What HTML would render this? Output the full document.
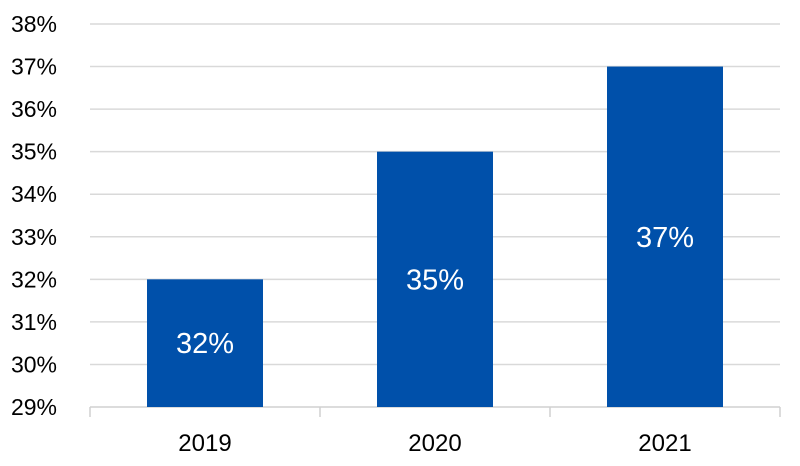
<!DOCTYPE html>
<html><head><meta charset="utf-8"><style>
body{margin:0;background:#fff;}
svg{display:block;font-family:"Liberation Sans",Arial,sans-serif;}
</style></head><body>
<svg id="chart" width="800" height="466"></svg>
<script>
const categories=["2019","2020","2021"];
const values=[32,35,37];
const yTicks=[29,30,31,32,33,34,35,36,37,38];
const ns="http://www.w3.org/2000/svg";
const svg=document.getElementById("chart");
const x0=90,x1=780,yMin=29,yMax=38,yB=407,yT=24;
const y=v=>yB-(v-yMin)/(yMax-yMin)*(yB-yT);
const band=(x1-x0)/categories.length;
const bw=116;
function mk(t,a){const e=document.createElementNS(ns,t);for(const k in a)e.setAttribute(k,a[k]);svg.appendChild(e);return e;}
yTicks.forEach(t=>{
  if(t>yMin){const g=mk("line",{x1:x0,x2:x1,y1:y(t),y2:y(t),stroke:"#d9d9d9","stroke-width":1.5});
  
  }
  const l=mk("text",{x:57,y:y(t)+8,"text-anchor":"end","font-size":23,fill:"#000"});
  l.textContent=t+"%";
  
  
});
const ax=mk("line",{x1:x0,x2:x1,y1:yB,y2:yB,stroke:"#d0d0d0","stroke-width":1.5});


for(let i=0;i<=categories.length;i++){
  const tk=mk("line",{x1:x0+i*band,x2:x0+i*band,y1:yB,y2:yB+10,stroke:"#d0d0d0","stroke-width":1.5});
  
  
}
categories.forEach((c,i)=>{
  const cx=x0+band*(i+0.5);
  const r=mk("rect",{x:cx-bw/2,y:y(values[i]),width:bw,height:yB-y(values[i]),fill:"#0050aa"});
  
  
  const v=mk("text",{x:cx,y:(y(values[i])+yB)/2+10,"text-anchor":"middle","font-size":29,fill:"#fff"});
  v.textContent=values[i]+"%";
  
  
  const l=mk("text",{x:cx,y:451,"text-anchor":"middle","font-size":24,fill:"#000"});
  l.textContent=c;
  
  
});
</script>
</body></html>
